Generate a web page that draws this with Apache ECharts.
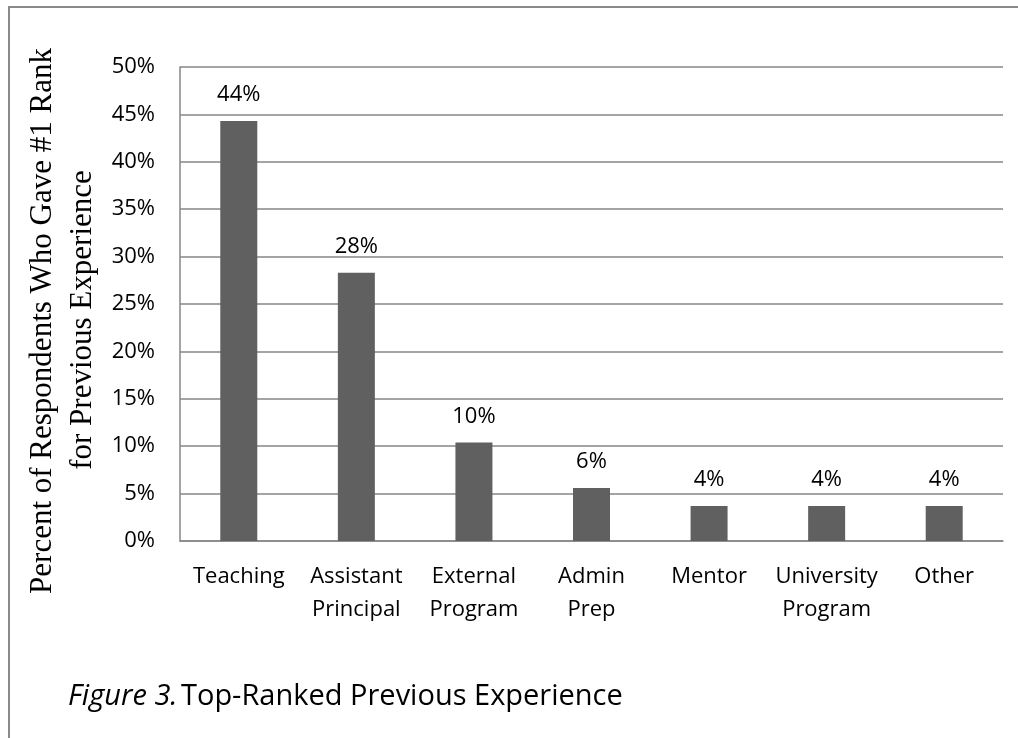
<!DOCTYPE html>
<html>
<head>
<meta charset="utf-8">
<title>Top-Ranked Previous Experience</title>
<script src="https://cdn.jsdelivr.net/npm/echarts@6/dist/echarts.min.js"></script>
<style>
  html, body { margin: 0; padding: 0; background: #fff; }
  #chart { width: 1018px; height: 738px; }
</style>
</head>
<body>
<div id="chart"></div>
<script>
// categories and values (percent of respondents)
var categories = ['Teaching', 'Assistant\nPrincipal', 'External\nProgram', 'Admin\nPrep', 'Mentor', 'University\nProgram', 'Other']
var percents = [44.3, 28.3, 10.4, 5.6, 3.7, 3.7, 3.7]
var yTicks = [0, 5, 10, 15, 20, 25, 30, 35, 40, 45, 50]

var axisTitle1 = 'Percent of Respondents Who Gave #1 Rank'
var axisTitle2 = 'for Previous Experience'

var chart = echarts.init(document.getElementById('chart'))
chart.setOption({
  animation: false,
  grid: {
    left: 180,
    right: 15,
    top: 67,
    bottom: 197
  },
  graphic: [
    {
      type: 'rect',
      shape: { x: 9, y: 7, width: 1100, height: 900 },
      style: { fill: 'none', stroke: '#8a8a8a', lineWidth: 2 },
      silent: true
    },
    {
      type: 'text',
      x: 43,
      y: 321,
      rotation: Math.PI / 2,
      style: {
        text: axisTitle1,
        font: '31px "Liberation Serif", "Times New Roman", serif',
        fill: '#000',
        align: 'center',
        verticalAlign: 'middle'
      }
    },
    {
      type: 'text',
      x: 83,
      y: 320,
      rotation: Math.PI / 2,
      style: {
        text: axisTitle2,
        font: '31px "Liberation Serif", "Times New Roman", serif',
        fill: '#000',
        align: 'center',
        verticalAlign: 'middle'
      }
    },
    {
      type: 'text',
      x: 68,
      y: 697,
      style: {
        rich: {
          i: { fontStyle: 'italic', fontSize: 29, fontFamily: '"Open Sans", sans-serif', fill: '#000' },
          n: { fontSize: 29, fontFamily: '"Open Sans", sans-serif', fill: '#000' }
        },
        text: '{i|Figure 3.} {n|Top-Ranked Previous Experience}',
        verticalAlign: 'middle'
      }
    }
  ],
  xAxis: {
    type: 'category',
    data: categories,
    axisLine: { show: true, lineStyle: { color: '#868686', width: 1.5 } },
    axisTick: { show: false },
    axisLabel: {
      interval: 0,
      margin: 19,
      color: '#000',
      fontSize: 22,
      lineHeight: 33,
      fontFamily: '"Open Sans", sans-serif'
    }
  },
  yAxis: {
    type: 'value',
    min: yTicks[0],
    max: yTicks[yTicks.length - 1],
    interval: 5,
    axisLine: { show: true, lineStyle: { color: '#868686', width: 1.5 } },
    axisTick: { show: false },
    splitLine: { lineStyle: { color: '#868686', width: 1.5 } },
    axisLabel: {
      margin: 25,
      color: '#000',
      fontSize: 22,
      fontFamily: '"Open Sans", sans-serif',
      formatter: function (v) { return v + '%' }
    }
  },
  series: [
    {
      type: 'bar',
      data: percents,
      barWidth: 37,
      itemStyle: { color: '#606060' },
      label: {
        show: true,
        position: 'top',
        distance: 15,
        color: '#000',
        fontSize: 22,
        fontFamily: '"Open Sans", sans-serif',
        formatter: function (p) { return Math.round(p.value) + '%' }
      }
    }
  ]
})
</script>
</body>
</html>
